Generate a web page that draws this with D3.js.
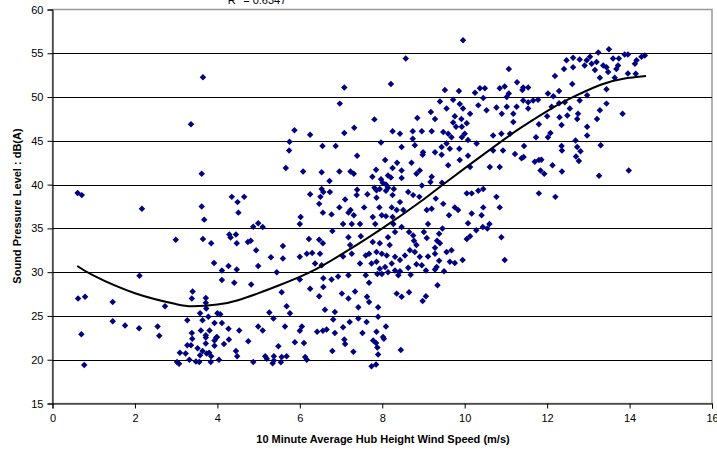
<!DOCTYPE html>
<html>
<head>
<meta charset="UTF-8">
<title>Sound pressure level vs wind speed</title>
<style>
  body { margin: 0; background: #fff; }
  text { font-family: Arial, "Liberation Sans", sans-serif; fill: #000; }
</style>
</head>
<body>
<script src="https://cdn.jsdelivr.net/npm/d3@7"></script>
<script>
// [wind speed m/s, level dB(A)]
var observations = [
  [3.65,52.25],[7.08,51.1],[6.97,49.25],
  [9.96,56.5],[8.57,54.4],[8.21,51.5],[11.07,53.2],[9.52,50.8],[9.86,50.7],[9.4,49.5],[9.72,49.7],[9.18,48.3],[8.85,47.6],[7.81,47.45],[9.56,48.7],[9.88,49.2],[10.25,50.5],[10.37,51.0],[10.49,51.0],[10.45,49.9],[10.33,49.05],[10.53,48.5],[10.85,51.0],[10.97,51.2],[11.07,50.4],[11.27,51.7],[11.42,51.1],[11.54,51.1],[11.4,50.8],[11.02,50.0],[11.26,48.9],[11.42,49.6],[11.54,49.4],[11.66,49.6],[11.78,49.7],[12.02,50.4],[12.15,50.1],[12.29,50.7],[12.19,52.4],[12.41,53.2],[12.47,54.2],[12.63,54.5],[12.63,53.4],[12.61,51.5],[12.79,54.3],[12.96,54.2],[13.04,54.6],[13.08,53.8],[12.91,53.6],[13.2,54.0],[13.24,55.1],[13.16,53.1],[13.5,55.45],[13.44,53.4],[13.36,53.6],[13.48,52.85],[13.6,54.4],[13.74,54.4],[13.72,53.6],[13.68,53.2],[13.88,54.85],[13.96,54.85],[13.96,52.7],[14.15,52.65],[14.17,54.2],[14.13,53.8],[14.29,54.6],[14.37,54.75],[13.64,52.2],[13.28,52.2],[13.44,50.9],[12.97,50.2],[12.79,49.6],[12.55,48.7],[12.43,49.4],[12.29,49.3],[12.11,48.9],[12.49,47.9],[12.75,48.1],[13.44,49.25],[13.28,48.5],[13.21,47.5],[13.83,48.1],[11.54,48.7],[10.77,48.8],[11.02,48.9],[10.9,48.1],[11.18,48.1],[10.13,48.1],[9.96,48.7],[9.76,47.8],[9.92,47.5],[9.28,47.5],
  [11.8,46.9],[11.73,45.4],[12.02,45.4],[12.08,45.9],[12.35,46.8],[12.73,47.5],[12.97,46.6],[12.97,45.6],[12.69,45.05],[12.73,44.3],[12.81,43.8],[12.7,43.2],[12.77,42.7],[12.35,44.4],[12.36,43.9],[12.36,41.5],[12.13,42.2],[11.93,41.25],[11.84,41.6],[11.8,42.8],[11.7,42.6],[11.86,42.85],[11.43,43.15],[11.38,43.0],[11.44,44.4],[11.8,39.0],[12.2,38.6],[13.26,41.0],[13.98,41.6],[13.3,44.5],[12.0,47.8],[12.3,47.7],
  [8.43,45.8],[8.74,46.1],[8.96,46.1],[9.2,46.1],[9.48,46.0],[9.6,45.8],[9.72,47.1],[9.79,46.6],[9.93,46.6],[10.05,47.0],[10.0,45.8],[9.93,45.4],[9.68,45.4],[9.56,44.7],[9.44,44.3],[9.64,44.1],[9.28,43.7],[9.44,43.4],[8.99,43.7],[8.98,43.4],[8.79,44.5],[8.47,44.3],[8.74,45.25],[9.87,44.1],[10.08,45.1],[10.29,44.7],[10.08,43.3],[9.88,42.8],[10.13,42.0],[9.6,42.2],[8.71,42.5],[8.91,41.6],[8.83,41.25],[9.2,40.9],[8.47,41.6],[8.47,40.75],[8.63,39.15],[8.75,38.8],[8.9,38.6],[8.96,39.9],[9.17,40.3],[9.45,40.2],[9.3,38.4],[9.2,37.25],[9.08,37.1],[8.51,37.1],[8.43,38.0],[9.48,37.8],[9.62,36.5],[9.76,37.4],[9.84,37.1],[10.17,36.7],[10.05,39.0],[10.17,39.0],[10.33,39.3],[10.45,39.5],[10.61,42.0],[10.85,42.0],[10.69,43.9],[10.93,43.9],[11.22,43.5],[10.77,38.6],[10.85,37.4],[10.45,37.4],[10.41,36.5],[10.69,45.6],[10.89,45.8],[11.1,45.8],[11.18,47.15],
  [5.87,46.2],[6.25,45.7],[5.75,44.9],[5.74,43.9],[7.32,46.5],[7.08,45.9],[8.25,46.1],[7.97,44.8],[6.55,44.4],[6.87,44.4],[7.39,43.3],[5.66,41.9],[6.08,41.5],[6.53,41.4],[6.96,41.5],[7.23,41.5],[7.31,41.25],[6.72,40.4],[7.85,41.7],[7.76,40.9],[8.07,42.8],[8.36,42.5],[8.25,41.9],[8.14,41.05],[8.21,40.8],[7.97,40.6],[8.01,40.2],[8.09,40.0],[8.14,39.65],[8.28,39.5],[7.94,39.5],[7.86,39.35],[7.81,39.65],[8.09,39.3],[8.25,38.8],[6.53,39.5],[6.57,39.15],[6.73,39.15],[6.5,38.6],[6.25,38.9],[7.39,39.4],[7.38,38.8],[7.64,38.9],[7.1,38.3],[7.86,38.5],[6.47,37.8],[6.96,37.4],[7.23,37.1],[7.56,37.4],[7.93,37.4],[8.23,37.4],[6.56,36.8],[6.77,36.6],[6.02,36.3],[7.18,36.8],[7.31,36.5],[7.77,36.3],[7.99,36.5],[8.09,36.4],[8.25,36.3],[8.35,37.1],
  [6.0,35.5],[7.05,35.5],[7.26,35.5],[7.46,35.5],[7.83,35.5],[8.27,35.5],[6.22,33.8],[6.47,33.7],[6.56,33.3],[6.79,34.7],[7.18,34.0],[7.22,33.1],[7.48,34.1],[7.77,33.45],[7.94,33.3],[8.14,34.0],[8.18,33.1],[8.31,34.6],[5.59,33.0],[6.17,32.1],[6.0,31.75],[6.3,32.2],[6.49,32.1],[6.37,31.0],[6.53,30.8],[7.05,31.8],[7.26,32.1],[7.46,31.0],[7.6,31.9],[7.68,32.1],[7.86,32.3],[7.99,32.1],[8.11,31.9],[7.86,31.2],[7.74,31.0],[7.94,30.4],[8.07,30.6],[8.14,30.0],[8.31,30.2],[8.23,31.0],[8.31,31.75],[8.39,29.65],[7.99,29.8],[7.88,29.8],[7.6,29.65],[7.18,29.65],[6.93,29.5],[6.57,29.3],[6.77,29.15],[6.25,28.1],[6.57,28.3],[6.0,29.15],[7.68,28.8],[7.34,27.8],[7.02,27.55],[6.47,27.25],[7.18,27.0],[7.63,27.2],[7.68,26.6],[8.35,27.55],[7.42,26.0],[7.9,26.0],[5.68,26.1],[5.76,25.3],[6.61,25.7],[6.85,25.45],[6.81,24.6],[7.9,24.9],[7.42,24.7],[7.21,24.3],[7.62,24.3],[5.64,23.8],[6.05,23.8],[6.0,23.3],[6.42,23.2],[6.56,23.3],[6.65,23.45],[6.85,23.05],[7.05,23.7],[7.52,23.05],[7.86,23.2],[8.09,23.8],[8.02,22.6],[5.56,27.7],[5.59,31.55],
  [8.65,34.6],[8.75,34.2],[8.77,33.6],[8.83,33.1],[9.01,34.6],[9.08,33.9],[8.47,35.15],[8.67,32.5],[8.79,32.3],[8.55,31.9],[8.91,31.75],[9.11,31.8],[9.28,32.8],[9.28,32.1],[9.33,33.6],[9.4,33.3],[9.38,34.4],[9.46,35.0],[9.56,32.3],[9.68,32.5],[9.64,31.2],[9.76,31.05],[9.95,31.4],[9.38,31.3],[9.32,30.6],[9.28,30.3],[9.5,30.1],[9.06,30.2],[8.96,30.8],[8.83,30.9],[8.63,30.5],[8.43,31.4],[8.69,29.7],[8.43,30.1],[9.34,28.5],[8.65,27.7],[8.47,27.2],[9.06,27.25],[8.98,26.7],[10.05,33.8],[10.13,34.1],[10.28,34.8],[10.44,35.15],[10.55,35.0],[10.6,35.5],[10.89,34.0],[10.97,31.4],[10.08,35.6],[9.11,35.5],
  [3.36,46.9],[3.62,41.25],[0.61,39.05],[0.71,38.8],[2.17,37.25],[3.62,37.5],[3.68,36.0],[4.35,38.6],[4.49,38.0],[4.65,38.6],[4.51,36.8],[2.99,33.7],[3.65,33.8],[3.85,33.3],[4.29,34.3],[4.32,33.95],[4.45,34.3],[4.47,33.3],[4.74,33.45],[4.81,33.6],[4.87,35.2],[4.99,35.6],[5.1,35.15],[4.94,32.5],[4.99,30.7],[5.3,31.7],[5.44,30.0],[3.92,31.05],[4.11,30.2],[4.27,30.7],[4.47,30.3],[4.41,28.8],[4.11,29.1],[4.82,28.6],[2.11,29.6],[3.4,27.8],[3.38,27.0],[3.72,27.05],[2.73,26.1],[0.62,27.0],[0.79,27.2],[1.46,26.6],[3.72,26.5],[3.58,25.3],[3.73,25.85],[3.78,24.9],[4.0,25.3],[4.11,24.2],[4.07,25.2],[3.64,24.5],[3.27,24.5],[3.38,23.05],[3.6,23.35],[3.72,22.8],[3.81,23.35],[3.93,24.2],[3.99,22.6],[4.27,23.55],[4.53,23.35],[4.99,23.8],[5.1,23.35],[5.26,25.4],[5.36,24.7],[1.46,24.4],[1.76,23.9],[2.1,23.6],[2.55,23.8],[2.59,22.75],[0.7,22.9],
  [0.77,19.4],[3.02,19.75],[3.07,19.55],[3.09,20.8],[3.23,20.7],[3.27,21.65],[3.36,21.65],[3.32,20.0],[3.48,19.8],[3.56,19.75],[3.39,22.4],[3.52,21.3],[3.58,20.5],[3.64,21.0],[3.72,21.85],[3.72,22.55],[3.74,20.7],[3.8,20.8],[3.85,20.4],[3.84,19.75],[3.93,21.6],[3.93,22.2],[3.97,22.5],[4.04,20.0],[4.16,21.8],[4.28,22.3],[4.45,21.0],[4.48,20.4],[4.75,22.1],[4.87,19.75],[5.16,20.4],[5.2,20.1],[5.34,19.6],[5.37,19.9],[5.37,20.4],[5.48,21.55],[5.54,19.7],[5.56,20.3],[5.68,20.4],[5.88,22.0],[6.1,21.9],[6.13,20.3],[6.17,20.0],[6.79,21.0],[7.1,21.8],[7.08,22.3],[7.3,20.9],
  [7.78,22.2],[7.85,21.9],[8.04,22.4],[7.88,21.4],[7.9,20.6],[7.74,19.25],[7.85,19.45],[8.45,21.1]
];

// trend line
var trendSpeed = [0.6, 1, 2, 3, 3.4, 4, 4.5, 5, 5.5, 6.25, 7, 8, 9, 9.5, 10.5, 11.3, 12, 12.5, 13.3, 13.85, 14.4];
var trendLevel = [30.7, 29.6, 27.6, 26.35, 26.1, 26.3, 26.8, 27.6, 28.5, 30.0, 32.0, 35.0, 38.3, 40.1, 43.6, 46.3, 48.4, 49.7, 51.4, 52.1, 52.4];

var xTicks = [0, 2, 4, 6, 8, 10, 12, 14, 16];
var yTicks = [15, 20, 25, 30, 35, 40, 45, 50, 55, 60];
var rSquared = '0.6347';

var w = 717, h = 453;
var plotLeft = 52.5, plotRight = 712, plotTop = 9.5, plotBottom = 403.5;

var svg = d3.select('body').append('svg')
  .attr('width', w)
  .attr('height', h);

var x = d3.scaleLinear().domain([0, 16]).range([plotLeft, plotRight]);
var y = d3.scaleLinear().domain([15, 60]).range([plotBottom, plotTop]);

// plot area border
svg.append('rect')
  .attr('x', plotLeft).attr('y', plotTop)
  .attr('width', plotRight - plotLeft).attr('height', plotBottom - plotTop)
  .attr('fill', '#fff')
  .attr('stroke', '#999')
  .attr('stroke-width', 1.5);

// gridlines
svg.append('g')
  .selectAll('line')
  .data(yTicks.filter(function (d) { return d > 15 && d < 60; }))
  .enter()
  .append('line')
  .attr('x1', plotLeft).attr('x2', plotRight)
  .attr('y1', function (d) { return Math.round(y(d)) + 0.5; })
  .attr('y2', function (d) { return Math.round(y(d)) + 0.5; })
  .attr('stroke', '#000')
  .attr('stroke-width', 1);

// axes
var yAxis = svg.append('g')
  .attr('transform', 'translate(' + plotLeft + ',0)')
  .call(d3.axisLeft(y).tickValues(yTicks).tickSize(5).tickPadding(4));
var xAxis = svg.append('g')
  .attr('transform', 'translate(0,' + plotBottom + ')')
  .call(d3.axisBottom(x).tickValues(xTicks).tickSize(5).tickPadding(6));

[xAxis, yAxis].forEach(function (g) {
  g.select('.domain').attr('stroke', '#000');
  g.selectAll('.tick line').attr('stroke', '#000');
  g.selectAll('.tick text')
    .style('font-family', 'Arial, "Liberation Sans", sans-serif')
    .style('font-size', '11px')
    .attr('fill', '#000');
});

// points
var diamond = d3.symbol().type(d3.symbolSquare).size(21);
svg.append('g')
  .selectAll('path')
  .data(observations)
  .enter()
  .append('path')
  .attr('d', diamond)
  .attr('transform', function (d) {
    return 'translate(' + x(d[0]) + ',' + y(d[1]) + ') rotate(45)';
  })
  .attr('fill', '#000080');

// trend curve
var line = d3.line()
  .x(function (d, i) { return x(trendSpeed[i]); })
  .y(function (d) { return y(d); })
  .curve(d3.curveNatural);
svg.append('path')
  .datum(trendLevel)
  .attr('d', line)
  .attr('fill', 'none')
  .attr('stroke', '#000')
  .attr('stroke-width', 2);

// R squared label, clipped by the top of the image
var r2 = svg.append('text')
  .attr('x', 257).attr('y', 4)
  .attr('text-anchor', 'middle')
  .style('font-size', '11px');
r2.append('tspan').text('R');
r2.append('tspan').attr('dy', -4).style('font-size', '8px').text('2');
r2.append('tspan').attr('dy', 4).text(' = ' + rSquared);

// axis titles
svg.append('text')
  .attr('x', 383).attr('y', 443)
  .attr('text-anchor', 'middle')
  .style('font-size', '11px')
  .style('font-weight', 'bold')
  .text('10 Minute Average Hub Height Wind Speed (m/s)');

svg.append('text')
  .attr('transform', 'translate(21,206) rotate(-90)')
  .attr('text-anchor', 'middle')
  .style('font-size', '11px')
  .style('font-weight', 'bold')
  .text('Sound Pressure Level : dB(A)');
</script>
</body>
</html>
